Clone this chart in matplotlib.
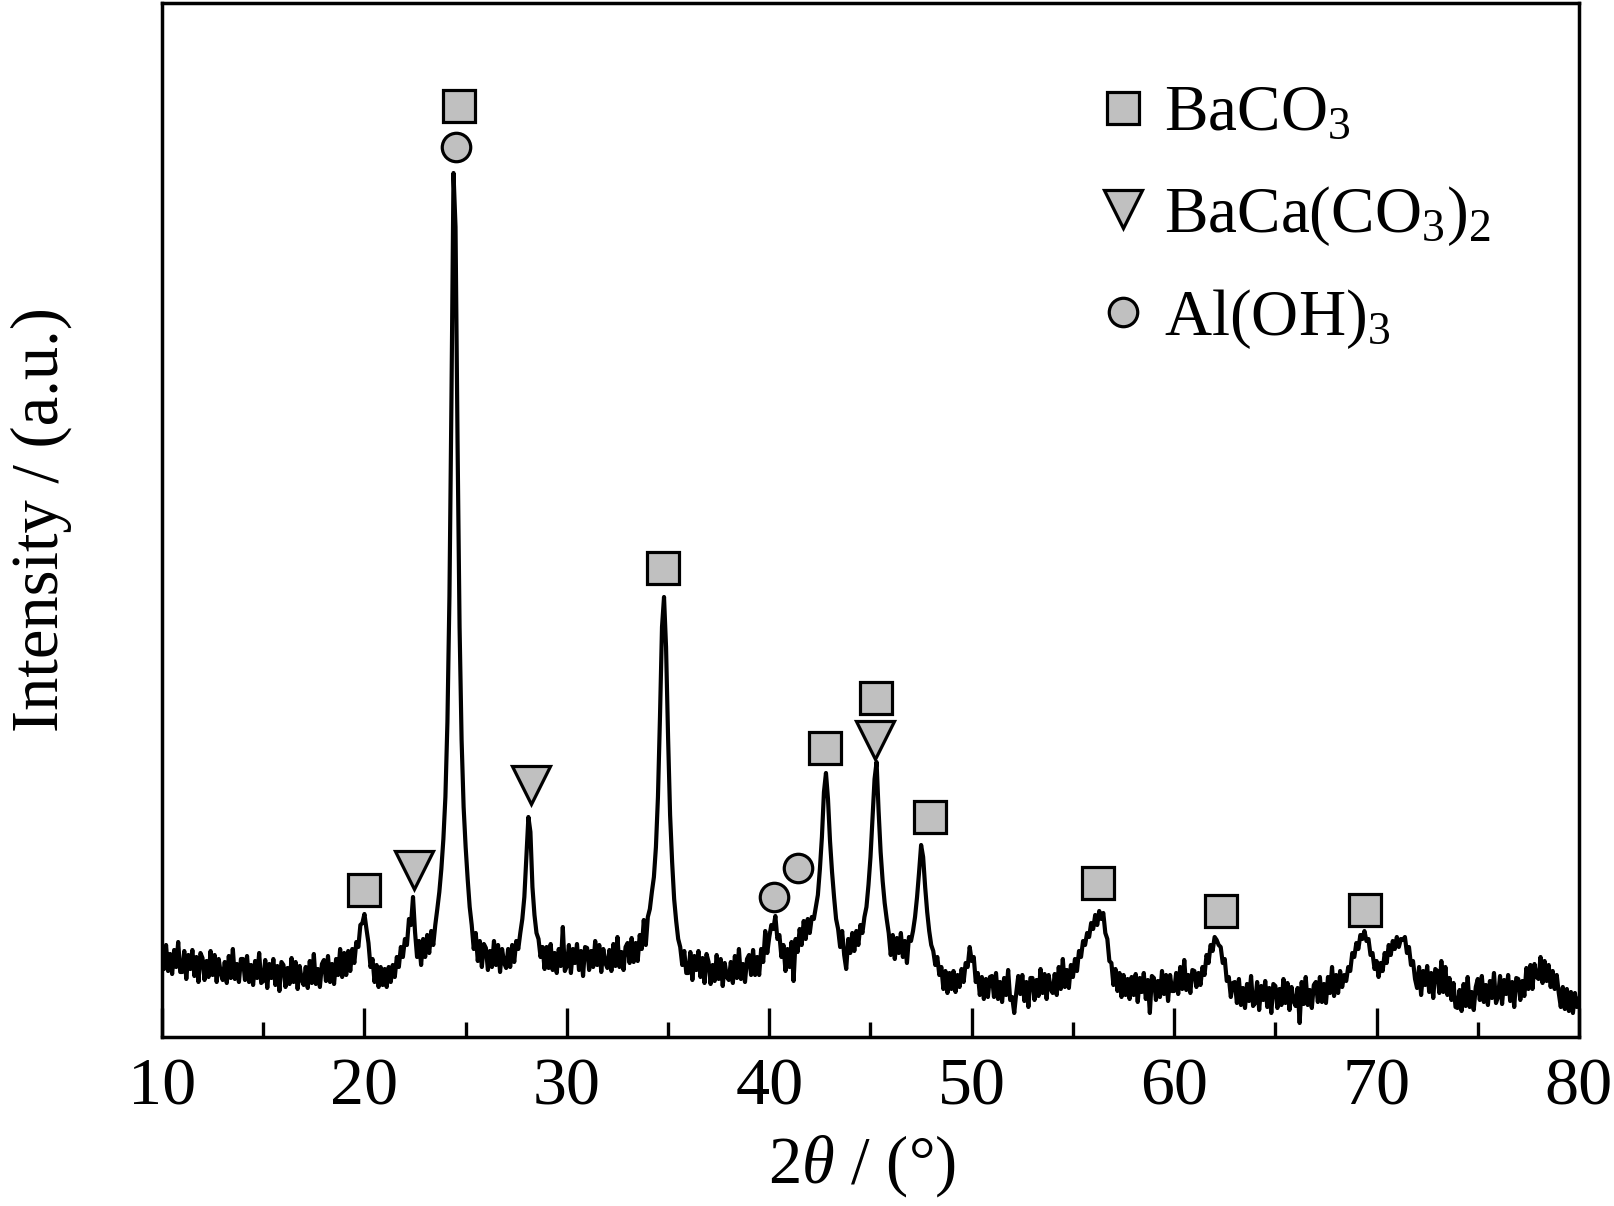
import numpy as np
import matplotlib
matplotlib.use("Agg")
import matplotlib.pyplot as plt

plt.rcParams['font.family'] = ['Liberation Serif', 'DejaVu Serif']
plt.rcParams['mathtext.fontset'] = 'custom'
plt.rcParams['mathtext.rm'] = 'Liberation Serif'
plt.rcParams['mathtext.it'] = 'Liberation Serif:italic'

# XRD scan: 10-80 deg, step 0.1 deg, one row per degree
start_angle = 10.0
step = 0.1
intensity = [
    89, 68, 92, 66, 83, 63, 87, 70, 95, 65,
    65, 86, 58, 82, 68, 87, 61, 80, 55, 84,
    79, 57, 76, 60, 86, 62, 82, 55, 78, 64,
    57, 75, 54, 81, 59, 88, 58, 73, 55, 78,
    78, 57, 81, 55, 72, 52, 76, 59, 84, 54,
    56, 77, 49, 73, 59, 78, 52, 71, 46, 75,
    72, 50, 69, 53, 79, 55, 75, 48, 71, 57,
    52, 70, 49, 76, 54, 83, 53, 68, 50, 73,
    77, 56, 81, 55, 73, 53, 78, 62, 88, 60,
    84, 62, 86, 66, 88, 74, 95, 90, 112, 114,
    123, 108, 94, 70, 78, 55, 72, 50, 70, 52,
    68, 50, 70, 55, 72, 60, 80, 70, 90, 80,
    98, 92, 118, 112, 140, 105, 80, 96, 72, 98,
    80, 102, 84, 106, 92, 112, 128, 145, 168, 198,
    240, 315, 441, 640, 864, 810, 595, 410, 297, 230,
    190, 158, 130, 112, 88, 104, 76, 96, 70, 93,
    89, 67, 86, 70, 96, 72, 92, 65, 88, 74,
    69, 88, 70, 92, 75, 96, 88, 104, 118, 140,
    180, 220, 205, 150, 122, 104, 98, 80, 90, 68,
    90, 69, 93, 67, 84, 64, 88, 71, 110, 66,
    71, 92, 64, 88, 74, 93, 67, 86, 61, 90,
    89, 67, 86, 70, 96, 72, 92, 65, 88, 74,
    69, 87, 66, 93, 71, 100, 70, 85, 67, 90,
    94, 74, 99, 75, 94, 76, 102, 88, 117, 92,
    120, 128, 145, 160, 190, 240, 320, 410, 440, 390,
    300, 222, 175, 138, 116, 98, 90, 72, 86, 64,
    64, 85, 57, 81, 67, 86, 60, 79, 54, 83,
    75, 53, 72, 56, 82, 58, 78, 51, 74, 60,
    57, 75, 54, 81, 59, 88, 58, 73, 55, 78,
    82, 62, 87, 62, 80, 62, 88, 75, 106, 84,
    100, 112, 108, 121, 98, 102, 80, 92, 66, 88,
    70, 95, 56, 98, 85, 108, 92, 116, 98, 118,
    104, 120, 118, 130, 142, 168, 200, 245, 264, 238,
    196, 165, 140, 118, 108, 90, 106, 82, 68, 98,
    84, 104, 86, 106, 92, 112, 104, 120, 130, 152,
    180, 220, 258, 275, 226, 185, 156, 134, 118, 104,
    82, 102, 78, 99, 84, 104, 80, 96, 74, 100,
    96, 106, 120, 140, 165, 192, 180, 150, 125, 106,
    92, 86, 72, 80, 62, 70, 48, 66, 44, 64,
    48, 66, 45, 62, 50, 68, 55, 74, 70, 90,
    76, 80, 55, 64, 42, 60, 38, 58, 40, 60,
    61, 40, 64, 38, 55, 35, 59, 42, 67, 37,
    40, 24, 44, 61, 43, 62, 36, 55, 30, 59,
    59, 37, 57, 41, 68, 44, 63, 38, 62, 48,
    44, 63, 42, 70, 48, 78, 50, 67, 49, 72,
    60, 78, 66, 86, 80, 96, 92, 104, 100, 114,
    108, 122, 112, 126, 118, 124, 104, 98, 76, 74,
    52, 68, 46, 64, 40, 62, 42, 58, 38, 60,
    42, 63, 35, 59, 45, 64, 38, 57, 24, 61,
    59, 37, 56, 40, 66, 43, 62, 36, 62, 46,
    46, 64, 43, 70, 48, 77, 47, 62, 44, 67,
    66, 50, 64, 52, 70, 62, 82, 74, 92, 86,
    100, 97, 92, 90, 74, 78, 56, 60, 40, 54,
    55, 34, 58, 32, 49, 29, 53, 36, 61, 31,
    34, 55, 27, 51, 37, 56, 30, 49, 24, 53,
    51, 29, 48, 32, 58, 34, 54, 27, 50, 36,
    31, 49, 14, 55, 33, 60, 32, 47, 29, 52,
    55, 35, 60, 35, 53, 34, 60, 44, 70, 41,
    62, 44, 66, 50, 62, 56, 70, 66, 84, 80,
    94, 88, 102, 98, 106, 96, 98, 82, 84, 68,
    76, 60, 74, 66, 84, 74, 92, 82, 96, 88,
    100, 90, 98, 97, 100, 84, 90, 72, 76, 58,
    49, 70, 42, 66, 52, 71, 45, 64, 39, 68,
    66, 44, 76, 45, 70, 42, 59, 37, 54, 30,
    29, 47, 26, 53, 31, 60, 30, 45, 27, 50,
    58, 37, 61, 35, 52, 32, 56, 39, 64, 34,
    40, 61, 33, 57, 43, 62, 36, 55, 30, 59,
    58, 37, 56, 41, 69, 48, 72, 48, 73, 60,
    58, 80, 54, 76, 56, 72, 50, 66, 48, 62,
    44, 30, 50, 28, 48, 26, 45, 24, 44, 30,
    38,
]
two_theta = start_angle + step * np.arange(len(intensity))

# phase markers (position, marker height)
baco3_x = [19.96, 24.66, 34.73, 42.77, 45.29, 47.94, 56.22, 62.33, 69.42]
baco3_y = [147, 931, 469, 289, 339, 220, 154, 126, 127]
baca_x = [22.45, 28.21, 45.21]
baca_y = [167, 252, 297]
aloh_x = [24.53, 40.25, 41.40]
aloh_y = [890, 140, 169]

fig = plt.figure(figsize=(16.15, 12.06), dpi=100)
ax = fig.add_axes([162 / 1615, 1 - 1037 / 1206, 1417 / 1615, 1034 / 1206])

ax.plot(two_theta, intensity, color='black', lw=3.0, zorder=2)

gray = '#c0c0c0'
ax.plot(baco3_x, baco3_y, ls='none', marker='s', ms=23, mfc=gray, mec='black',
        mew=2.3, zorder=3, label='BaCO$_3$')
ax.plot(baca_x, baca_y, ls='none', marker='v', ms=28, mfc=gray, mec='black',
        mew=2.3, zorder=3, label='BaCa(CO$_3$)$_2$')
ax.plot(aloh_x, aloh_y, ls='none', marker='o', ms=20.5, mfc=gray, mec='black',
        mew=2.3, zorder=3, label='Al(OH)$_3$')

ax.set_xlim(10, 80)
ax.set_ylim(0, 1034)
ax.set_xticks(np.arange(10, 81, 10))
ax.set_xticks(np.arange(15, 80, 10), minor=True)
ax.set_yticks([])
ax.tick_params(axis='x', which='major', direction='in', length=21, width=2.4,
               labelsize=49, pad=15)
ax.tick_params(axis='x', which='minor', direction='in', length=10.5, width=2.4)
for s in ax.spines.values():
    s.set_linewidth(2.5)

ax.set_xlabel(r'2$\theta$ / (°)', fontsize=48, labelpad=10)
ax.xaxis.label.set_x(0.494)
ax.set_ylabel('Intensity / (a.u.)', fontsize=48, labelpad=65)

ax.legend(loc='upper left', bbox_to_anchor=(0.662, 0.921), frameon=False,
          fontsize=47, numpoints=1, handlelength=0.7, handletextpad=0.28,
          labelspacing=0.6, borderpad=0, borderaxespad=0)

fig.savefig('out.png', dpi=100)
